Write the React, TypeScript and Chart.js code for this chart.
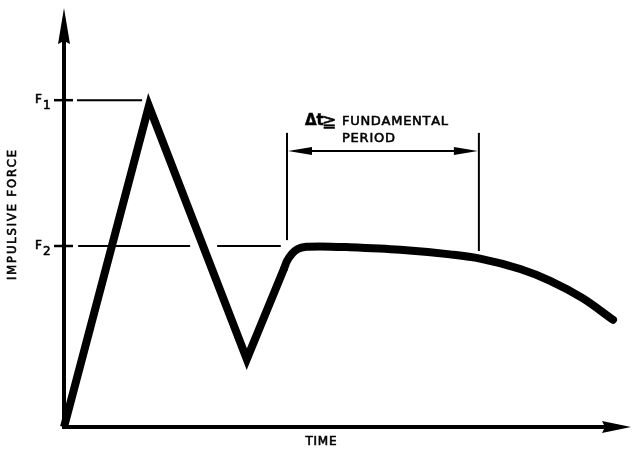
import React, { useEffect, useRef } from "react";
import { Chart, registerables } from "chart.js";

Chart.register(...registerables);

// Impact phase (sharp rise, peak, trough) : time vs impulsive force (arbitrary units)
const impactTime = [0, 15.0, 32.3, 38.9];
const impactForce = [0, 76.6, 16.2, 37.9];

// Sustained phase (smooth plateau and decay)
const sustainedTime = [38.9, 39.4, 40.3, 41.3, 42.8, 45.2, 50.5, 59.4, 68.2, 73.5, 80.6, 85.9, 91.7, 97.0];
const sustainedForce = [37.9, 39.6, 41.4, 42.5, 43.0, 43.1, 42.9, 42.3, 41.2, 40.2, 37.7, 34.9, 30.7, 25.6];

// Force levels marked on the vertical axis
const forceLevels = [78.0, 43.2];
const forceLabelMain = ["F", "F"];
const forceLabelSub = ["1", "2"];
const forceDashStart = [2.3, 2.5];
const forceDashEnd = [13.8, 38.3];

// Fundamental period annotation
const periodStart = 39.4;
const periodEnd = 73.3;
const periodArrowForce = 65.9;
const periodExtTop = 70.2;
const periodExtBottom = [44.6, 42.0];
const periodLabelLine1 = ["Δt", "≧", "FUNDAMENTAL"];
const periodLabelLine2 = "PERIOD";

const xTitle = "TIME";
const yTitle = "IMPULSIVE FORCE";

const FONT = '"DejaVu Sans", sans-serif';

function drawSpaced(ctx: CanvasRenderingContext2D, text: string, x: number, y: number, width: number, align: "left" | "center") {
  const chars = [...text];
  const widths = chars.map((c) => ctx.measureText(c).width);
  const nat = widths.reduce((a, b) => a + b, 0);
  const gap = chars.length > 1 ? (width - nat) / (chars.length - 1) : 0;
  let cx = align === "center" ? x - width / 2 : x;
  ctx.textAlign = "left";
  chars.forEach((c, i) => {
    ctx.fillText(c, cx, y);
    ctx.strokeText(c, cx, y);
    cx += widths[i] + gap;
  });
}

function heavyText(ctx: CanvasRenderingContext2D, text: string, x: number, y: number) {
  ctx.fillText(text, x, y);
  ctx.strokeText(text, x, y);
}

const decorPlugin = {
  id: "decor",
  afterDatasetsDraw(chart: any) {
    const { ctx, chartArea, scales } = chart;
    const X = (v: number) => scales.x.getPixelForValue(v);
    const Y = (v: number) => scales.y.getPixelForValue(v);
    const ox = X(0);
    const oy = Y(0);
    ctx.save();
    ctx.fillStyle = "#000";
    ctx.strokeStyle = "#000";
    ctx.lineCap = "butt";

    // Y axis with arrow
    ctx.lineWidth = 4;
    ctx.beginPath();
    ctx.moveTo(ox, oy + 2);
    ctx.lineTo(ox, chartArea.top + 30);
    ctx.stroke();
    ctx.beginPath();
    ctx.moveTo(ox, chartArea.top);
    ctx.lineTo(ox + 6, chartArea.top + 36);
    ctx.lineTo(ox, chartArea.top + 33);
    ctx.lineTo(ox - 6, chartArea.top + 36);
    ctx.closePath();
    ctx.fill();

    // X axis with arrow
    ctx.lineWidth = 4;
    ctx.beginPath();
    ctx.moveTo(ox - 2, oy);
    ctx.lineTo(chartArea.right - 24, oy);
    ctx.stroke();
    ctx.beginPath();
    ctx.moveTo(chartArea.right + 1, oy);
    ctx.lineTo(chartArea.right - 28, oy - 6);
    ctx.lineTo(chartArea.right - 25, oy);
    ctx.lineTo(chartArea.right - 28, oy + 6);
    ctx.closePath();
    ctx.fill();

    // Force level ticks, dashes and labels
    forceLevels.forEach((lv, i) => {
      const py = Y(lv);
      ctx.lineWidth = 2.5;
      ctx.setLineDash([]);
      ctx.beginPath();
      ctx.moveTo(ox - 10, py);
      ctx.lineTo(ox + 9, py);
      ctx.stroke();
      ctx.lineWidth = 2;
      ctx.setLineDash([112, 27]);
      ctx.beginPath();
      ctx.moveTo(X(forceDashStart[i]), py);
      ctx.lineTo(X(forceDashEnd[i]), py);
      ctx.stroke();
      ctx.setLineDash([]);
      ctx.lineWidth = 0.6;
      ctx.font = `12px ${FONT}`;
      ctx.textBaseline = "alphabetic";
      ctx.textAlign = "left";
      heavyText(ctx, forceLabelMain[i], ox - 29, py + 3);
      const fw = ctx.measureText(forceLabelMain[i]).width;
      heavyText(ctx, forceLabelSub[i], ox - 29 + fw + 1, py + 9);
    });

    // Period extension lines
    ctx.lineWidth = 2;
    [periodStart, periodEnd].forEach((t, i) => {
      ctx.beginPath();
      ctx.moveTo(X(t), Y(periodExtTop));
      ctx.lineTo(X(t), Y(periodExtBottom[i]));
      ctx.stroke();
    });
    // Double arrow
    const ax0 = X(periodStart);
    const ax1 = X(periodEnd);
    const ay = Y(periodArrowForce);
    ctx.lineWidth = 2;
    ctx.beginPath();
    ctx.moveTo(ax0 + 10, ay);
    ctx.lineTo(ax1 - 10, ay);
    ctx.stroke();
    ctx.beginPath();
    ctx.moveTo(ax0 + 1, ay);
    ctx.lineTo(ax0 + 25, ay - 4);
    ctx.lineTo(ax0 + 25, ay + 4);
    ctx.closePath();
    ctx.fill();
    ctx.beginPath();
    ctx.moveTo(ax1 - 1, ay);
    ctx.lineTo(ax1 - 25, ay - 4);
    ctx.lineTo(ax1 - 25, ay + 4);
    ctx.closePath();
    ctx.fill();

    // Period label
    ctx.textBaseline = "alphabetic";
    ctx.textAlign = "left";
    ctx.lineWidth = 0.5;
    ctx.font = `bold 15px ${FONT}`;
    heavyText(ctx, periodLabelLine1[0], ax0 + 18, ay - 26);
    ctx.font = `17px ${FONT}`;
    heavyText(ctx, periodLabelLine1[1], ax0 + 35, ay - 24);
    ctx.lineWidth = 0.6;
    ctx.font = `13px ${FONT}`;
    drawSpaced(ctx, periodLabelLine1[2], ax0 + 55, ay - 26, 106, "left");
    drawSpaced(ctx, periodLabelLine2, ax0 + 55, ay - 9, 53, "left");

    // Axis titles
    ctx.font = `12px ${FONT}`;
    ctx.textBaseline = "middle";
    drawSpaced(ctx, xTitle, (ox + chartArea.right) / 2 - 26, oy + 15, 31, "center");

    ctx.font = `11.5px ${FONT}`;
    ctx.translate(13.5, 215);
    ctx.rotate(-Math.PI / 2);
    ctx.textBaseline = "middle";
    drawSpaced(ctx, yTitle, 0, 0, 130, "center");
    ctx.restore();
  },
};

export default function App() {
  const ref = useRef<HTMLCanvasElement>(null);
  useEffect(() => {
    if (!ref.current) return;
    const chart = new Chart(ref.current, {
      type: "line",
      data: {
        datasets: [
          {
            data: impactTime.map((t, i) => ({ x: t, y: impactForce[i] })),
            borderColor: "#000",
            borderWidth: 8,
            tension: 0,
            pointRadius: 0,
            pointHoverRadius: 0,
            borderJoinStyle: "miter",
            borderCapStyle: "butt",
            clip: false,
          } as any,
          {
            data: sustainedTime.map((t, i) => ({ x: t, y: sustainedForce[i] })),
            borderColor: "#000",
            borderWidth: 8,
            cubicInterpolationMode: "monotone",
            pointRadius: 0,
            pointHoverRadius: 0,
            borderJoinStyle: "round",
            borderCapStyle: "round",
            clip: false,
          } as any,
        ],
      },
      options: {
        responsive: false,
        animation: false,
        events: [],
        layout: { padding: { left: 64, right: 4, top: 8, bottom: 24 } },
        plugins: { legend: { display: false }, tooltip: { enabled: false }, title: { display: false } },
        scales: {
          x: { type: "linear", min: 0, max: 100, display: false },
          y: { type: "linear", min: 0, max: 100, display: false },
        },
      },
      plugins: [decorPlugin],
    });
    return () => chart.destroy();
  }, []);
  return (
    <div style={{ position: "absolute", left: 0, top: 0, width: 634, height: 451, background: "#fff" }}>
      <canvas ref={ref} width={634} height={451} style={{ display: "block" }} />
    </div>
  );
}
